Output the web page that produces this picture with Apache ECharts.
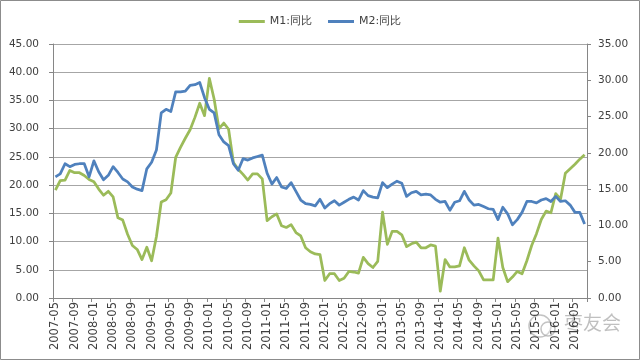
<!DOCTYPE html>
<html>
<head>
<meta charset="utf-8">
<script src="https://cdn.jsdelivr.net/npm/echarts@6/dist/echarts.min.js"></script>
<style>
html,body{margin:0;padding:0;background:#fff;}
#c{width:640px;height:360px;}
</style>
</head>
<body>
<div id="c"></div>
<script>
var categories = [
 '2007-05','2007-06','2007-07','2007-08','2007-09','2007-10','2007-11','2007-12',
 '2008-01','2008-02','2008-03','2008-04','2008-05','2008-06','2008-07','2008-08','2008-09','2008-10','2008-11','2008-12',
 '2009-01','2009-02','2009-03','2009-04','2009-05','2009-06','2009-07','2009-08','2009-09','2009-10','2009-11','2009-12',
 '2010-01','2010-02','2010-03','2010-04','2010-05','2010-06','2010-07','2010-08','2010-09','2010-10','2010-11','2010-12',
 '2011-01','2011-02','2011-03','2011-04','2011-05','2011-06','2011-07','2011-08','2011-09','2011-10','2011-11','2011-12',
 '2012-01','2012-02','2012-03','2012-04','2012-05','2012-06','2012-07','2012-08','2012-09','2012-10','2012-11','2012-12',
 '2013-01','2013-02','2013-03','2013-04','2013-05','2013-06','2013-07','2013-08','2013-09','2013-10','2013-11','2013-12',
 '2014-01','2014-02','2014-03','2014-04','2014-05','2014-06','2014-07','2014-08','2014-09','2014-10','2014-11','2014-12',
 '2015-01','2015-02','2015-03','2015-04','2015-05','2015-06','2015-07','2015-08','2015-09','2015-10','2015-11','2015-12',
 '2016-01','2016-02','2016-03','2016-04','2016-05','2016-06','2016-07'
];

var m1Values = [
 19.1, 20.8, 20.9, 22.6, 22.2, 22.2, 21.7, 21.0,
 20.6, 19.3, 18.2, 18.9, 17.9, 14.2, 13.8, 11.3, 9.3, 8.6, 6.8, 9.0,
 6.6, 10.9, 17.0, 17.4, 18.6, 24.9, 26.7, 28.3, 29.8, 32.0, 34.5, 32.3,
 38.9, 35.2, 30.0, 31.0, 29.9, 24.0, 22.8, 21.9, 20.9, 22.0, 22.0, 21.1,
 13.7, 14.4, 14.9, 12.8, 12.5, 13.0, 11.6, 11.0, 8.9, 8.2, 7.8, 7.7,
 3.1, 4.3, 4.3, 3.1, 3.5, 4.7, 4.6, 4.4, 7.2, 6.1, 5.4, 6.5,
 15.2, 9.5, 11.8, 11.8, 11.2, 9.1, 9.6, 9.9, 8.9, 8.9, 9.4, 9.2,
 1.2, 6.8, 5.5, 5.5, 5.7, 8.9, 6.7, 5.7, 4.8, 3.2, 3.2, 3.2,
 10.6, 5.4, 2.9, 3.7, 4.7, 4.3, 6.6, 9.3, 11.4, 13.9, 15.4, 15.1,
 18.5, 17.5, 22.1, 22.9, 23.7, 24.6, 25.4
];

var m2Values = [
 16.7, 17.1, 18.5, 18.1, 18.4, 18.5, 18.5, 16.7,
 18.9, 17.4, 16.3, 16.9, 18.1, 17.3, 16.4, 16.0, 15.3, 15.0, 14.8, 17.8,
 18.7, 20.4, 25.5, 26.0, 25.7, 28.4, 28.4, 28.5, 29.3, 29.4, 29.7, 27.6,
 26.0, 25.5, 22.5, 21.5, 21.0, 18.5, 17.6, 19.2, 19.0, 19.3, 19.5, 19.7,
 17.2, 15.7, 16.6, 15.3, 15.1, 15.9, 14.7, 13.5, 13.0, 12.9, 12.7, 13.6,
 12.4, 13.0, 13.4, 12.8, 13.2, 13.6, 13.9, 13.5, 14.8, 14.1, 13.9, 13.8,
 15.9, 15.2, 15.7, 16.1, 15.8, 14.0, 14.5, 14.7, 14.2, 14.3, 14.2, 13.6,
 13.2, 13.3, 12.1, 13.2, 13.4, 14.7, 13.5, 12.8, 12.9, 12.6, 12.3, 12.2,
 10.8, 12.5, 11.6, 10.1, 10.8, 11.8, 13.3, 13.3, 13.1, 13.5, 13.7, 13.3,
 14.0, 13.3, 13.4, 12.8, 11.8, 11.8, 10.2
];

var seriesNames = ['M1:同比', 'M2:同比'];
var leftTicks = [0, 45, 5];
var rightTicks = [0, 35, 5];
var watermarkText = '枣友会';

var FONT = 'DejaVu Sans';
var chart = echarts.init(document.getElementById('c'), null, {renderer: 'canvas'});
chart.setOption({
  animation: false,
  backgroundColor: '#fff',
  textStyle: {fontFamily: FONT},
  legend: {
    top: 11,
    left: 'center',
    icon: 'rect',
    itemWidth: 26,
    itemHeight: 3,
    itemGap: 16,
    textStyle: {fontFamily: FONT, fontSize: 11, color: '#404040'},
    data: seriesNames
  },
  grid: {left: 53, right: 53, top: 44, bottom: 62, containLabel: false, outerBoundsMode: 'none'},
  xAxis: {
    type: 'category',
    data: categories,
    boundaryGap: true,
    axisLine: {lineStyle: {color: '#868686', width: 1}},
    axisTick: {show: true, interval: 3, length: 4, lineStyle: {color: '#868686'}},
    axisLabel: {interval: 3, rotate: 90, margin: 4, fontFamily: FONT, fontSize: 11.5, color: '#404040'},
    splitLine: {show: false}
  },
  yAxis: [{
    type: 'value',
    min: leftTicks[0], max: leftTicks[1], interval: leftTicks[2],
    position: 'left',
    axisLine: {show: true, lineStyle: {color: '#868686'}},
    axisTick: {show: true, length: 4, lineStyle: {color: '#868686'}},
    axisLabel: {margin: 14, fontFamily: FONT, fontSize: 10.5, color: '#404040', formatter: function (v) { return v.toFixed(2); }},
    splitLine: {show: true, lineStyle: {color: '#a6a6a6', width: 1}}
  }, {
    type: 'value',
    min: rightTicks[0], max: rightTicks[1], interval: rightTicks[2],
    position: 'right',
    axisLine: {show: true, lineStyle: {color: '#868686'}},
    axisTick: {show: true, length: 4, lineStyle: {color: '#868686'}},
    axisLabel: {margin: 11, fontFamily: FONT, fontSize: 10.5, color: '#404040', formatter: function (v) { return v.toFixed(2); }},
    splitLine: {show: false}
  }],
  series: [{
    name: seriesNames[0],
    type: 'line',
    yAxisIndex: 0,
    data: m1Values,
    symbol: 'none',
    itemStyle: {color: '#9BBB59'},
    lineStyle: {color: '#9BBB59', width: 2.75, join: 'round'}
  }, {
    name: seriesNames[1],
    type: 'line',
    yAxisIndex: 1,
    data: m2Values,
    symbol: 'none',
    itemStyle: {color: '#4F81BD'},
    lineStyle: {color: '#4F81BD', width: 2.75, join: 'round'}
  }],
  graphic: [{
    type: 'rect',
    silent: true,
    shape: {x: 0.5, y: 0.5, width: 639, height: 359},
    style: {fill: 'none', stroke: '#8c8c8c', lineWidth: 1}
  }, {
    type: 'circle',
    silent: true,
    shape: {cx: 540, cy: 326, r: 11},
    style: {fill: 'rgba(255,255,255,0.3)', stroke: 'rgba(170,170,170,0.7)', lineWidth: 1.5}
  }, {
    type: 'circle',
    silent: true,
    shape: {cx: 548, cy: 329, r: 7},
    style: {fill: 'rgba(255,255,255,0.3)', stroke: 'rgba(170,170,170,0.7)', lineWidth: 1.5}
  }, {
    type: 'text',
    silent: true,
    left: 564, top: 313,
    style: {text: watermarkText, fontFamily: 'Noto Sans CJK SC', fontSize: 19, fill: 'rgba(150,150,150,0.6)'}
  }]
});
</script>
</body>
</html>
